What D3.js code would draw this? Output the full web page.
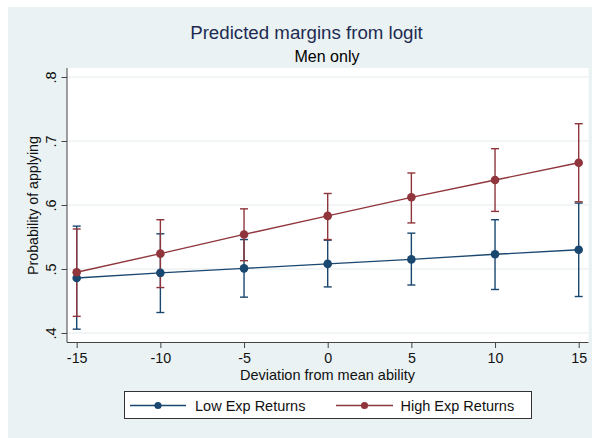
<!DOCTYPE html>
<html>
<head>
<meta charset="utf-8">
<script src="https://cdn.jsdelivr.net/npm/d3@7"></script>
<style>
  html, body { margin: 0; padding: 0; background: #ffffff; }
  svg { display: block; }
  text { font-family: "Liberation Sans", Arial, Helvetica, sans-serif; }
</style>
</head>
<body>
<svg id="chart" width="592" height="438"></svg>
<script>
// ---- Data ----
const xValues = [-15, -10, -5, 0, 5, 10, 15];
const lowMargin = [0.486, 0.494, 0.501, 0.508, 0.515, 0.523, 0.530];
const lowLower  = [0.406, 0.432, 0.456, 0.472, 0.475, 0.468, 0.457];
const lowUpper  = [0.567, 0.555, 0.546, 0.545, 0.556, 0.577, 0.603];
const highMargin = [0.495, 0.524, 0.554, 0.583, 0.612, 0.639, 0.666];
const highLower  = [0.426, 0.471, 0.513, 0.546, 0.572, 0.590, 0.605];
const highUpper  = [0.5625, 0.577, 0.594, 0.618, 0.650, 0.688, 0.727];
const yTicks = [0.4, 0.5, 0.6, 0.7, 0.8];
const yTickLabels = [".4", ".5", ".6", ".7", ".8"];
const xTicks = [-15, -10, -5, 0, 5, 10, 15];
const seriesNames = ["Low Exp Returns", "High Exp Returns"];
const titleText = "Predicted margins from logit";
const subtitleText = "Men only";
const xTitle = "Deviation from mean ability";
const yTitle = "Probability of applying";

const colors = ["#1a476f", "#90353b"];

const series = [
  { name: seriesNames[0], color: colors[0],
    pts: xValues.map((x, i) => ({ x, m: lowMargin[i], lo: lowLower[i], hi: lowUpper[i] })) },
  { name: seriesNames[1], color: colors[1],
    pts: xValues.map((x, i) => ({ x, m: highMargin[i], lo: highLower[i], hi: highUpper[i] })) }
];

const svg = d3.select("#chart");

// Graph region background
svg.append("rect").attr("x", 8).attr("y", 7).attr("width", 584).attr("height", 431)
  .attr("fill", "#eaf2f3");

// Plot region
const plot = { left: 67, right: 588.5, top: 68, bottom: 342.5 };
svg.append("rect").attr("x", plot.left).attr("y", plot.top)
  .attr("width", plot.right - plot.left).attr("height", plot.bottom - plot.top)
  .attr("fill", "#ffffff");

const x = d3.scaleLinear().domain([-15, 15]).range([76.7, 578.7]);
const y = d3.scaleLinear().domain([0.4, 0.8]).range([333, 77]);

// Grid lines
svg.append("g").selectAll("line").data(yTicks).join("line")
  .attr("x1", plot.left).attr("x2", plot.right)
  .attr("y1", d => y(d)).attr("y2", d => y(d))
  .attr("stroke", "#e4eced").attr("stroke-width", 1.2);

// Y axis
const yAxis = d3.axisLeft(y).tickValues(yTicks)
  .tickFormat((d, i) => yTickLabels[i]).tickSize(5.5).tickSizeOuter(0).tickPadding(3);
const gy = svg.append("g").attr("transform", `translate(${plot.left},0)`).call(yAxis);
gy.select(".domain").remove();
gy.selectAll(".tick line").attr("stroke", "#444");
gy.selectAll(".tick text")
  .attr("font-size", 14.5).attr("fill", "#111")
  .attr("text-anchor", "middle")
  .attr("x", null).attr("dy", null)
  .attr("transform", "translate(-11.5,0) rotate(-90)");
svg.append("line").attr("x1", plot.left).attr("x2", plot.left)
  .attr("y1", plot.top).attr("y2", plot.bottom).attr("stroke", "#444").attr("stroke-width", 1);

// X axis
const xAxis = d3.axisBottom(x).tickValues(xTicks).tickSize(5.5).tickSizeOuter(0).tickPadding(4)
  .tickFormat(d3.format("d"));
const gx = svg.append("g").attr("transform", `translate(0,${plot.bottom})`).call(xAxis);
gx.select(".domain").remove();
gx.selectAll(".tick line").attr("stroke", "#444");
gx.selectAll(".tick text").attr("font-size", 14.3).attr("fill", "#111")
  .attr("dy", null).attr("y", 20.5);
gx.selectAll(".tick text").text(d => d < 0 ? "-" + Math.abs(d) : d);
svg.append("line").attr("x1", plot.left).attr("x2", plot.right)
  .attr("y1", plot.bottom).attr("y2", plot.bottom).attr("stroke", "#444").attr("stroke-width", 1);

// Titles
svg.append("text").attr("x", 306.5).attr("y", 38.5).attr("text-anchor", "middle")
  .attr("font-size", 18.7).attr("fill", "#1e2b52").text(titleText);
svg.append("text").attr("x", 327).attr("y", 62).attr("text-anchor", "middle")
  .attr("font-size", 16).attr("fill", "#000").text(subtitleText);
svg.append("text").attr("x", 327.5).attr("y", 379.5).attr("text-anchor", "middle")
  .attr("font-size", 14.5).attr("fill", "#111").text(xTitle);
svg.append("text").attr("transform", "translate(37.5,205.5) rotate(-90)")
  .attr("text-anchor", "middle").attr("font-size", 14.2).attr("fill", "#111").text(yTitle);

// Series
const line = d3.line().x(d => x(d.x)).y(d => y(d.m));
series.forEach(s => {
  const g = svg.append("g");
  // Error bars
  g.selectAll("line.ci").data(s.pts).join("line").attr("class", "ci")
    .attr("x1", d => x(d.x)).attr("x2", d => x(d.x))
    .attr("y1", d => y(d.lo)).attr("y2", d => y(d.hi))
    .attr("stroke", s.color).attr("stroke-width", 1.4);
  g.selectAll("line.caplo").data(s.pts).join("line").attr("class", "caplo")
    .attr("x1", d => x(d.x) - 4).attr("x2", d => x(d.x) + 4)
    .attr("y1", d => y(d.lo)).attr("y2", d => y(d.lo))
    .attr("stroke", s.color).attr("stroke-width", 1.4);
  g.selectAll("line.caphi").data(s.pts).join("line").attr("class", "caphi")
    .attr("x1", d => x(d.x) - 4).attr("x2", d => x(d.x) + 4)
    .attr("y1", d => y(d.hi)).attr("y2", d => y(d.hi))
    .attr("stroke", s.color).attr("stroke-width", 1.4);
});
series.forEach(s => {
  const g = svg.append("g");
  g.append("path").datum(s.pts).attr("d", line).attr("fill", "none")
    .attr("stroke", s.color).attr("stroke-width", 1.4);
  g.selectAll("circle").data(s.pts).join("circle")
    .attr("cx", d => x(d.x)).attr("cy", d => y(d.m)).attr("r", 4.3)
    .attr("fill", s.color);
});

// Legend
svg.append("rect").attr("x", 124.5).attr("y", 391.5).attr("width", 407).attr("height", 27)
  .attr("fill", "#ffffff").attr("stroke", "#333").attr("stroke-width", 1);
const legendItems = [
  { name: seriesNames[0], color: colors[0], x0: 130, x1: 186, tx: 195 },
  { name: seriesNames[1], color: colors[1], x0: 336, x1: 393, tx: 400.5 }
];
legendItems.forEach(it => {
  svg.append("line").attr("x1", it.x0).attr("x2", it.x1).attr("y1", 405.5).attr("y2", 405.5)
    .attr("stroke", it.color).attr("stroke-width", 1.4);
  svg.append("circle").attr("cx", (it.x0 + it.x1) / 2).attr("cy", 405.5).attr("r", 3.6)
    .attr("fill", it.color);
  svg.append("text").attr("x", it.tx).attr("y", 411).attr("font-size", 14.5)
    .attr("fill", "#111").text(it.name);
});
</script>
</body>
</html>
